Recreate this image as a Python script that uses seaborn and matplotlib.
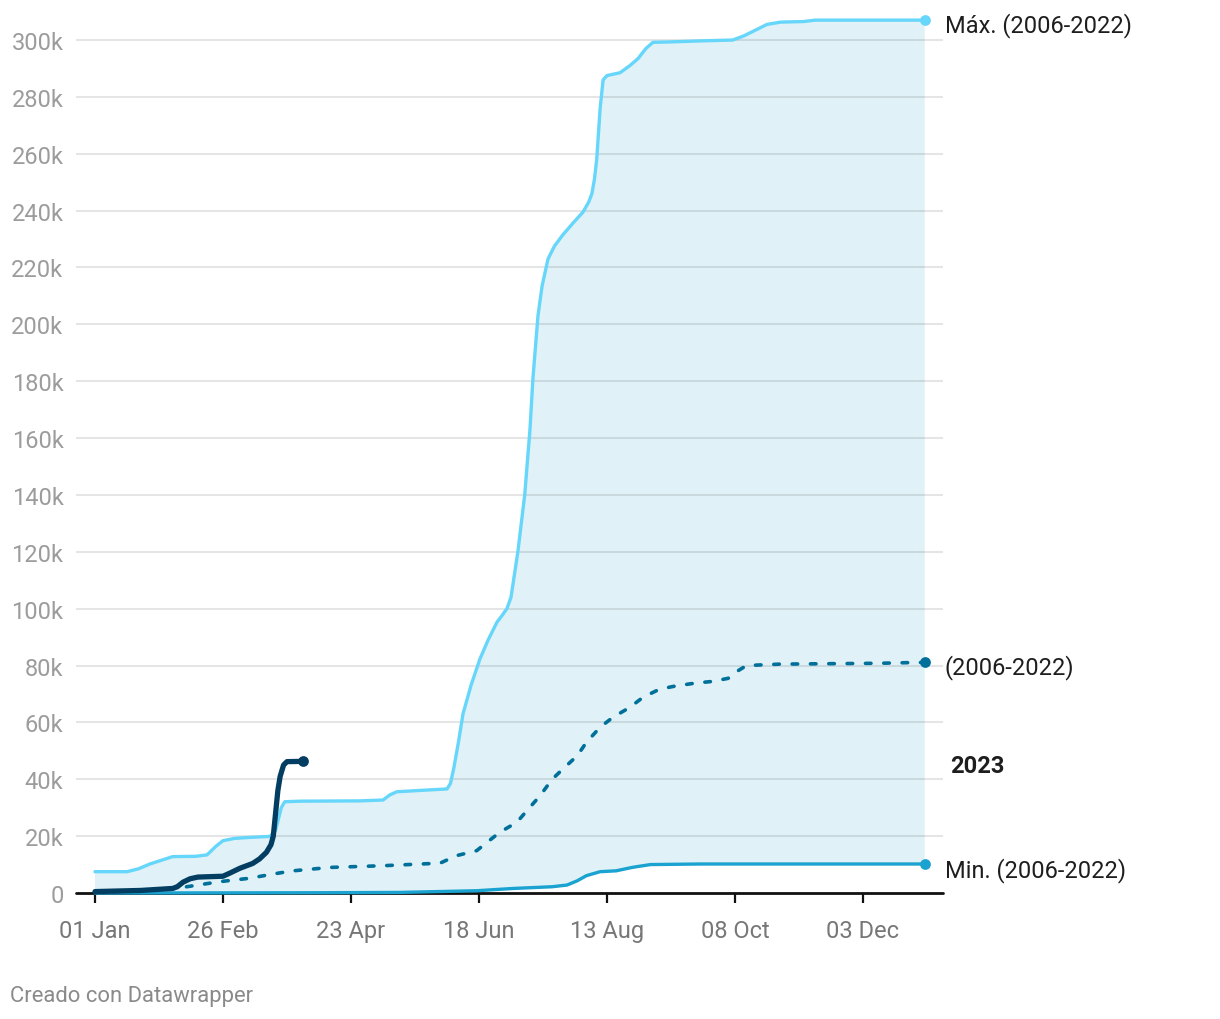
import numpy as np
import matplotlib
matplotlib.use("Agg")
import matplotlib.pyplot as plt
import seaborn as sns

# ---------------- data (values in thousands, x = day of year) ----------------
max_days = [0, 14, 19, 24, 34, 44, 49, 53, 56, 61, 66.5, 76.6, 79, 81.5, 83, 90, 116, 126, 129, 132,
            145, 154, 155.5, 157, 159, 161, 164.5, 168.4, 172, 175.9, 178, 180.2, 182, 185, 188, 190.3,
            191.6, 193.8, 195.6, 198.2, 201, 204.7, 209, 213.5, 216, 217.4, 218.5, 219.5, 221, 222.3,
            224, 229.7, 234, 237.6, 241, 244.1, 250, 265, 279, 284, 289, 294, 300, 310, 315, 363]
max_vals = [7.5, 7.5, 8.5, 10.2, 12.8, 12.9, 13.4, 16.5, 18.4, 19.2, 19.5, 19.9, 22, 30, 32.1, 32.3, 32.4, 32.7, 34.5, 35.6,
            36.2, 36.6, 38.5, 44, 53, 63, 73, 82.3, 89, 95.3, 97.5, 100, 104, 120, 140, 163,
            181, 203, 213.5, 223, 227.5, 231.5, 235.5, 239.5, 243, 246, 251, 258, 276, 286,
            287.5, 288.5, 291, 293.5, 297, 299.2, 299.3, 299.7, 300, 301.5, 303.5, 305.5, 306.3, 306.5, 307, 307]

min_days = [0, 60, 100, 133, 167, 183, 200, 206.5, 211, 215, 221, 228, 235, 243, 265, 363]
min_vals = [0, 0.05, 0.1, 0.2, 0.8, 1.6, 2.2, 2.8, 4.3, 6.1, 7.5, 7.8, 9.0, 10.0, 10.2, 10.2]

mean_days = [0, 20, 38.5, 54.7, 67.8, 78, 86.6, 103, 126, 151, 158, 167, 171.5, 177, 184.6, 189, 194.7,
             200, 204.7, 211, 215, 221, 226.6, 234, 239.7, 247, 254.6, 263.4, 270, 277, 281, 285,
             299.7, 343, 355, 363]
mean_vals = [0.3, 0.8, 2.0, 4.0, 5.2, 6.7, 7.8, 9.0, 9.6, 10.5, 13.1, 14.9, 17.8, 21.3, 24.9, 29, 34.2,
             40, 43.6, 48.3, 53, 58.3, 61.8, 65.3, 68.8, 71.7, 72.9, 73.9, 74.4, 75.5, 78, 80,
             80.5, 80.8, 81, 81.1]

y2023_days = [0, 20, 34, 36, 38.5, 41.6, 45, 56, 59, 63.4, 69, 72, 75, 77, 78, 79, 80, 81, 82.5, 84, 91]
y2023_vals = [0.5, 0.9, 1.6, 2.2, 3.8, 5.0, 5.6, 5.9, 7.0, 8.7, 10.4, 12, 14.3, 17, 20, 28, 36, 41, 45, 46.2, 46.3]

x_tick_days = [0, 56, 112, 168, 224, 280, 336]
x_tick_labels = ["01 Jan", "26 Feb", "23 Apr", "18 Jun", "13 Aug", "08 Oct", "03 Dec"]
y_ticks = list(range(0, 301, 20))
y_tick_labels = ["0"] + [f"{v}k" for v in y_ticks[1:]]

end_labels = ["Máx. (2006-2022)", "(2006-2022)", "2023", "Min. (2006-2022)"]

# ---------------- style ----------------
sns.set_theme(style="white")
plt.rcParams["font.family"] = ["Roboto", "DejaVu Sans"]
plt.rcParams["lines.scale_dashes"] = False

C_MAX = "#66d6fb"
C_FILL = "#e0f2f7"
C_MEAN = "#00709b"
C_MIN = "#1aa2d0"
C_2023 = "#033d61"

fig = plt.figure(figsize=(12.2, 10.2), dpi=100)
ax = fig.add_axes([76 / 1220, 1 - 894 / 1020, (943 - 76) / 1220, (894 - 12.6) / 1020])

# band between min and max
poly_x = np.concatenate([max_days, min_days[::-1]])
poly_y = np.concatenate([max_vals, min_vals[::-1]])
ax.fill(poly_x, poly_y, color=C_FILL, lw=0, zorder=1)

# gridlines
for v in y_ticks[1:]:
    ax.axhline(v, color=(0, 0, 0, 0.1), lw=1.5, zorder=1.5)

# lines
sns.lineplot(x=min_days, y=min_vals, ax=ax, color=C_MIN, lw=2.4, zorder=3,
             solid_capstyle="round", clip_on=False)
sns.lineplot(x=max_days, y=max_vals, ax=ax, color=C_MAX, lw=2.4, zorder=3,
             solid_capstyle="round", clip_on=False)
sns.lineplot(x=mean_days, y=mean_vals, ax=ax, color=C_MEAN, lw=2.6, zorder=3, clip_on=False)
mean_line = ax.lines[-1]
mean_line.set_dashes((4.0, 9.2))
mean_line.set_dash_capstyle("round")
sns.lineplot(x=y2023_days, y=y2023_vals, ax=ax, color=C_2023, lw=3.8, zorder=4,
             solid_capstyle="round", solid_joinstyle="round", clip_on=False)

# end dots
sns.scatterplot(x=[max_days[-1]], y=[max_vals[-1]], ax=ax, color=C_MAX, s=60, linewidth=0, zorder=5, clip_on=False)
sns.scatterplot(x=[mean_days[-1]], y=[mean_vals[-1]], ax=ax, color=C_MEAN, s=60, linewidth=0, zorder=5, clip_on=False)
sns.scatterplot(x=[min_days[-1]], y=[min_vals[-1]], ax=ax, color=C_MIN, s=60, linewidth=0, zorder=5, clip_on=False)
sns.scatterplot(x=[y2023_days[-1]], y=[y2023_vals[-1]], ax=ax, color=C_2023, s=60, linewidth=0, zorder=5, clip_on=False)

# baseline
ax.axhline(0, color="#111111", lw=2, zorder=2.5, clip_on=False)

ax.set_xlim(-8.31, 371.0)
ax.set_ylim(0, 310)
for s in ax.spines.values():
    s.set_visible(False)

ax.set_yticks(y_ticks)
ax.set_yticklabels(y_tick_labels)
ax.set_xticks(x_tick_days)
ax.set_xticklabels(x_tick_labels)
ax.tick_params(axis="y", length=0, pad=9, labelsize=17, labelcolor="#9c9c9c")
ax.tick_params(axis="x", direction="out", length=7.5, width=1.6, color="#111111",
               pad=11, labelsize=17, labelcolor="#777777", bottom=True)
ax.set_xlabel("")
ax.set_ylabel("")

# end labels
lx = 371.8
ax.text(lx, 305.3, end_labels[0], fontsize=17, color="#1e1e1e", va="center", ha="left", clip_on=False)
ax.text(lx, 79.8, end_labels[1], fontsize=17, color="#1e1e1e", va="center", ha="left", clip_on=False)
ax.text(374.0, 45.0, end_labels[2], fontsize=17, color="#1e1e1e", fontweight="bold", va="center", ha="left", clip_on=False)
ax.text(lx, 8.4, end_labels[3], fontsize=17, color="#1e1e1e", va="center", ha="left", clip_on=False)

fig.text(10 / 1220, 1 - 997 / 1020, "Creado con Datawrapper", fontsize=15.8, color="#8a8a8a",
         va="center", ha="left")

fig.savefig("out.png", dpi=100)
